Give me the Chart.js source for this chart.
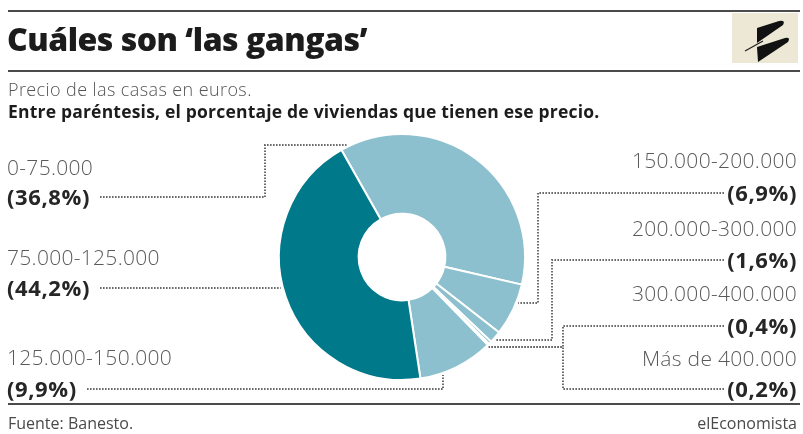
<!DOCTYPE html>
<html lang="es">
<head>
<meta charset="utf-8">
<title>Cuáles son ‘las gangas’</title>
<script src="https://cdn.jsdelivr.net/npm/chart.js@4/dist/chart.umd.min.js"></script>
<style>
  html, body { margin: 0; padding: 0; background: #fff; }
  #wrap { position: relative; width: 803px; height: 434px; overflow: hidden; font-family: "Open Sans", Lato, sans-serif; }
  #chart { position: absolute; left: 0; top: 0; }
  .rule { position: absolute; left: 8px; width: 792px; height: 2px; background: #4b4b4b; }
  .t { position: absolute; white-space: nowrap; }
  #title { left: 7px; top: 19px; font-size: 32px; line-height: 40px; font-weight: 800; color: #1c1c1c; letter-spacing: -0.5px; }
  #sub1 { left: 8px; top: 79px; font-size: 18px; line-height: 20px; font-weight: 300; color: #555; letter-spacing: 0.4px; }
  #sub2 { left: 8px; top: 101px; font-size: 17.5px; line-height: 20px; font-weight: 700; color: #1c1c1c; letter-spacing: 0.2px; }
  .cat { font-size: 21px; line-height: 26px; font-weight: 300; color: #5a5a5a; letter-spacing: 0.3px; }
  .pct { font-size: 22px; line-height: 26px; font-weight: 700; color: #262626; letter-spacing: 0.6px; }
  .foot { top: 413px; font-family: "Liberation Sans Narrow", "Open Sans", sans-serif; font-size: 16px; line-height: 20px; color: #4a4a4a; }
  #logo { position: absolute; left: 732px; top: 13px; }
</style>
</head>
<body>
<div id="wrap">
  <canvas id="chart" width="803" height="434"></canvas>
  <div class="rule" style="top:10px"></div>
  <div class="rule" style="top:70px"></div>
  <div class="rule" style="top:403px"></div>
  <div class="t" id="title">Cuáles son ‘las gangas’</div>
  <svg id="logo" width="66" height="50" viewBox="0 0 66 50">
    <rect x="0" y="0" width="66" height="50" fill="#ece8d5"/>
    <path d="M25,15 L47,8 Q54,7 51,12 L25,30 Z" fill="#111"/>
    <path d="M25,34 L53,25 Q59,24 56,29 L26,49 Z" fill="#111"/>
    <path d="M13,38 L31,28" stroke="#222" stroke-width="1.3"/>
  </svg>
  <div class="t" id="sub1">Precio de las casas en euros.</div>
  <div class="t" id="sub2">Entre paréntesis, el porcentaje de viviendas que tienen ese precio.</div>
  <div class="t foot" style="left:8px">Fuente: Banesto.</div>
  <div class="t foot" style="right:6px">elEconomista</div>
</div>
<script>
// Price bands in clockwise order starting from the upper-left edge of the ring
const categories = ['0-75.000', '150.000-200.000', '200.000-300.000', '300.000-400.000', 'Más de 400.000', '125.000-150.000', '75.000-125.000'];
// Share of homes in each band (%)
const shares = [36.8, 6.9, 1.6, 0.4, 0.2, 9.9, 44.2];
// Band drawn in the dark tone
const highlighted = '75.000-125.000';

const lightTone = '#8dc0cf';
const darkTone = '#007a8a';

// Where each band's caption sits and how its dotted leader reaches the ring
const labelLayout = [
  { side: 'left',  catY: 167, pctY: 196, elbowX: 265, endY: 145 },
  { side: 'right', catY: 160, pctY: 192, elbowX: 538, endY: 303 },
  { side: 'right', catY: 228, pctY: 259, elbowX: 552, endY: 340 },
  { side: 'right', catY: 293, pctY: 325, elbowX: 563, endY: 347 },
  { side: 'right', catY: 358, pctY: 388, elbowX: 563, endY: 347 },
  { side: 'left',  catY: 357, pctY: 388, endX: 443 },
  { side: 'left',  catY: 257, pctY: 287, endY: 287 }
];

const fmtPct = v => '(' + v.toFixed(1).replace('.', ',') + '%)';

const wrap = document.getElementById('wrap');
const pctEls = [];
categories.forEach((name, i) => {
  const lay = labelLayout[i];
  const cat = document.createElement('div');
  cat.className = 't cat';
  cat.textContent = name;
  const pct = document.createElement('div');
  pct.className = 't pct';
  pct.textContent = fmtPct(shares[i]);
  [[cat, lay.catY], [pct, lay.pctY]].forEach(([el, y]) => {
    el.style.top = (y - 13) + 'px';
    if (lay.side === 'left') el.style.left = '7px';
    else el.style.right = '6px';
    wrap.appendChild(el);
  });
  pctEls.push(pct);
});

// Dotted leaders from each percentage to the outer edge of the ring
const leaderPlugin = {
  id: 'leaders',
  beforeDatasetsDraw(chart) {
    const arc = chart.getDatasetMeta(0).data[0];
    const cx = arc.x, cy = arc.y, R = arc.outerRadius + 2;
    const rightStops = pctEls.filter((el, i) => labelLayout[i].side === 'right').map(el => el.offsetLeft);
    const rightStart = Math.min(...rightStops) - 3;
    const ctx = chart.ctx;
    ctx.save();
    ctx.strokeStyle = '#6a6a6a';
    ctx.lineWidth = 2;
    ctx.setLineDash([1.6, 1.4]);
    labelLayout.forEach((lay, i) => {
      const el = pctEls[i];
      const y0 = lay.pctY + 1;
      const sx = lay.side === 'left' ? el.offsetLeft + el.offsetWidth + 10 : rightStart;
      let pts;
      if (lay.endX !== undefined) {
        const yPie = cy + Math.sqrt(Math.max(R * R - (lay.endX - cx) ** 2, 0));
        pts = [[sx, y0], [lay.endX, y0], [lay.endX, yPie]];
      } else {
        const dx = Math.sqrt(Math.max(R * R - (lay.endY - cy) ** 2, 0));
        const xPie = lay.side === 'left' ? cx - dx : cx + dx;
        pts = lay.elbowX !== undefined
          ? [[sx, y0], [lay.elbowX, y0], [lay.elbowX, lay.endY], [xPie, lay.endY]]
          : [[sx, y0], [xPie, y0]];
      }
      ctx.beginPath();
      pts.forEach(([x, y], k) => k ? ctx.lineTo(x, y) : ctx.moveTo(x, y));
      ctx.stroke();
    });
    ctx.restore();
  }
};

new Chart(document.getElementById('chart'), {
  type: 'doughnut',
  data: {
    labels: categories,
    datasets: [{
      data: shares,
      backgroundColor: c => categories[c.dataIndex] === highlighted ? darkTone : lightTone,
      borderColor: '#ffffff',
      borderWidth: 2,
      hoverOffset: 0
    }]
  },
  options: {
    responsive: false,
    animation: false,
    events: [],
    rotation: -29.5,
    radius: 123,
    cutout: 43,
    layout: { padding: { left: 279, right: 278, top: 134, bottom: 54 } },
    plugins: { legend: { display: false }, tooltip: { enabled: false } }
  },
  plugins: [leaderPlugin]
});
</script>
</body>
</html>
